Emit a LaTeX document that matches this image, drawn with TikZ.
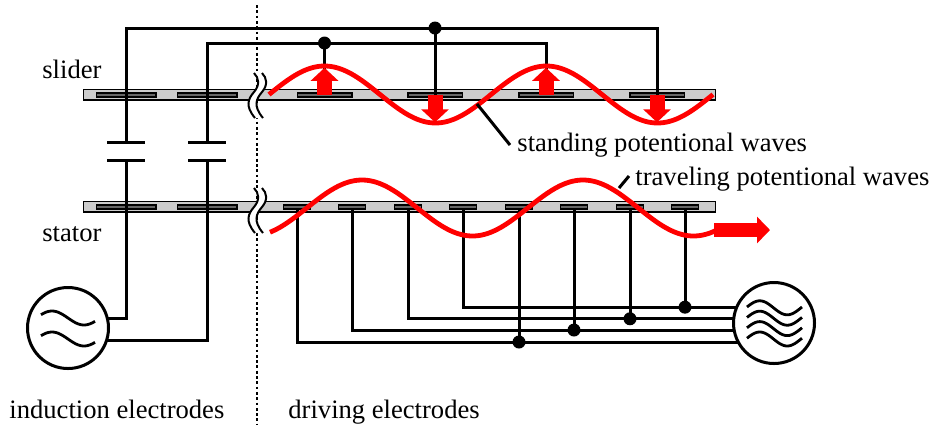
\documentclass[tikz,border=0pt]{standalone}
\usepackage{fontspec}
\setmainfont{Liberation Serif}
\usepackage{xcolor}
\usetikzlibrary{arrows.meta,calc}
\definecolor{cBar}{HTML}{CCCCCC}
\definecolor{cElec}{HTML}{666666}
\definecolor{cWave}{HTML}{FF0000}

\begin{document}
\begin{tikzpicture}[x=0.5pt,y=-0.5pt,
    wire/.style={line width=1.5pt,draw=black},
    bar/.style={draw,fill=cBar,line width=.75pt,minimum width=316pt,minimum height=5.2pt,inner sep=0pt,outer sep=0pt},
    elec/.style={draw,fill=cElec,line width=.75pt,minimum height=2pt,inner sep=0pt,outer sep=0pt},
    plate/.style={fill=black,minimum width=19pt,minimum height=1.5pt,inner sep=0pt,outer sep=0pt},
    dot/.style={circle,fill=black,minimum size=6.5pt,inner sep=0pt},
    source/.style={circle,draw,fill=white,line width=1.5pt,minimum size=40.5pt,inner sep=0pt,outer sep=0pt},
    wave/.style={cWave,line width=2.4pt},
    forcearrow/.style={cWave,line width=7.5pt,-{Triangle[length=6.5pt,width=13.5pt]}},
    lab/.style={font=\fontsize{13.3}{15}\selectfont,inner sep=0pt,anchor=base west}]
  \useasboundingbox (0,0) rectangle (930,425);
  % two bars, electrodes on each
  \node[bar] (slider) at (399.5,94.7) {};
  \node[bar] (stator) at (399.5,206.7) {};
  \foreach \n/\x in {1/126,2/207}{
    \node[elec,minimum width=29.75pt] (slind\n) at (\x,94.8) {};
    \node[elec,minimum width=29.75pt] (stind\n) at (\x,206.8) {};
    \node[plate] (captop\n) at (\x,142) {};
    \node[plate] (capbot\n) at (\x,160) {};
  }
  \foreach \n/\x in {1/324.5,2/435,3/546,4/657}
    \node[elec,minimum width=27.25pt] (sldr\n) at (\x,94.8) {};
  \foreach \n/\x in {1/297,2/352,3/408,4/463,5/519,6/574,7/630,8/685}
    \node[elec,minimum width=13.5pt] (stdr\n) at (\x,206.8) {};
  \draw[dash pattern=on 1.4pt off 1.25pt,line width=1.25pt] (257,5) coordinate (cuttop) -- (257,425) coordinate (cutbot);
  % sources
  \node[source] (acind) at (68,328) {};
  \node[source] (acdrive) at (774,323) {};
  \foreach \c in {318,339}
    \draw[line width=1.4pt] plot[domain=41:95,samples=40,smooth] (\x,{\c-7*sin(360/64*(\x-36))});
  \foreach \c in {307.8,318.2,328.6,339}
    \draw[line width=1.4pt] plot[domain=747:802,samples=40,smooth] (\x,{\c-7*sin(360/55*(\x-746))});
  % induction side
  \foreach \n in {1,2}{
    \draw[wire] (slind\n.center) -- (captop\n);
    \draw[wire] (capbot\n) -- (stind\n.center);
  }
  \draw[wire] (stind1.center) |- (acind.13);
  \draw[wire] (stind2.center) |- (acind.-18);
  \node[dot] (jointb) at (435,28) {};
  \node[dot] (jointa) at (324.5,43) {};
  \draw[wire] (slind1.center) |- (jointb.center) -| (sldr4.center);
  \draw[wire] (slind2.center) |- (jointa.center) -| (sldr3.center);
  \draw[wire] (jointa.center) -- (sldr1.center);
  \draw[wire] (jointb.center) -- (sldr2.center);
  % driving side
  \foreach \n/\a in {1/208,2/190,3/174,4/157,5/208,6/190,7/174,8/157}
    \draw[wire] (stdr\n.south) |- (acdrive.\a);
  \foreach \n/\a in {5/208,6/190,7/174,8/157}
    \node[dot] (busdot\n) at (stdr\n |- acdrive.\a) {};
  % breaks in the bars
  \foreach \by in {0,115}{
    \fill[white] (254,73+\by) .. controls (259,78+\by) and (260,85+\by) .. (254,92+\by) .. controls (248,99+\by) and (245,106+\by) .. (255,118+\by)
      -- (263,118+\by) .. controls (253,106+\by) and (256,99+\by) .. (262,92+\by) .. controls (268,85+\by) and (267,78+\by) .. (262,73+\by) -- cycle;
    \foreach \o in {0,8}
      \draw[line width=1pt,xshift=\o*0.5pt] (254,73+\by) .. controls (259,78+\by) and (260,85+\by) .. (254,92+\by) .. controls (248,99+\by) and (245,106+\by) .. (255,118+\by);
  }
  % waves and forces
  \draw[wave] plot[domain=269:713,samples=90,smooth] (\x,{94.5-28.5*cos(360/222*(\x-324.5))});
  \draw[wave] plot[domain=270:716,samples=90,smooth] (\x,{208-28*cos(360/221*(\x-362))});
  \draw[forcearrow] (sldr1.center) -- ++(0,-27);
  \draw[forcearrow] (sldr3.center) -- ++(0,-27);
  \draw[forcearrow] (sldr2.center) -- ++(0,27.5);
  \draw[forcearrow] (sldr4.center) -- ++(0,27.5);
  \coordinate (travstart) at (714,230);
  \draw[forcearrow,line width=7.3pt,-{Triangle[length=6.5pt,width=13pt]}] (travstart) -- (770,230) coordinate (travend);
  % labels
  \node[lab] (sliderlab) at (42,78) {slider};
  \node[lab] (statorlab) at (42,241) {stator};
  \node[lab] (standlab) at (517,151) {standing potentional waves};
  \node[lab] (travlab) at (635,185) {traveling potentional waves};
  \node[lab] (indlab) at (9,418) {induction electrodes};
  \node[lab] (drvlab) at (288,418) {driving electrodes};
  \coordinate (standtip) at (477,104);
  \coordinate (standend) at (510,145);
  \coordinate (travtip) at (619,188);
  \coordinate (travlead) at (629,176);
  \draw[wire] (standtip) -- (standend);
  \draw[wire] (travtip) -- (travlead);
\end{tikzpicture}
\end{document}
